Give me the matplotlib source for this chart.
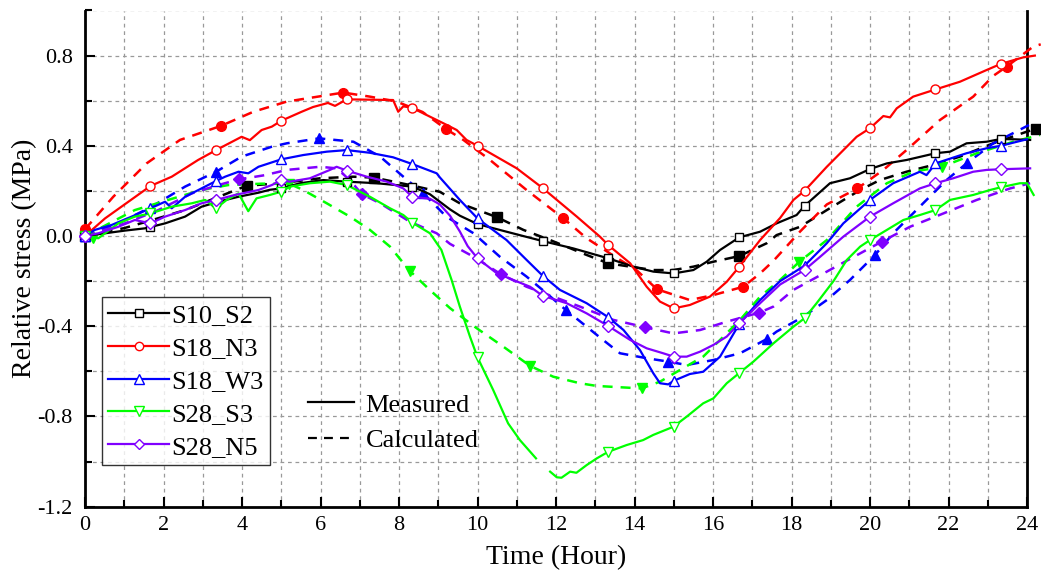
import numpy as np
import matplotlib
matplotlib.use("Agg")
import matplotlib.pyplot as plt
from matplotlib.lines import Line2D
from matplotlib.ticker import MultipleLocator, FormatStrFormatter

plt.rcParams['font.family'] = ['Liberation Serif', 'DejaVu Serif']
plt.rcParams['axes.unicode_minus'] = False

nan = np.nan

# measured markers every 100 min
t_mark = [0, 1.667, 3.333, 5.0, 6.667, 8.333, 10.0, 11.667, 13.333, 15.0, 16.667, 18.333, 20.0, 21.667, 23.333]

# S10_S2
s10_x = [0, 0.17, 0.51, 1.02, 1.53, 1.67, 2.04, 2.55, 2.97, 3.4, 3.91, 4.42, 4.71, 5.01, 5.48, 6.07, 6.67, 7.43,
         8.34, 8.79, 9.04, 9.3, 9.55, 10.0, 10.74, 11.65, 12.44, 13.33, 13.97, 14.48, 15.0, 15.5, 15.84, 16.18,
         16.67, 17.2, 17.62, 18.13, 18.33, 18.98, 19.49, 20.0, 20.43, 20.93, 21.67, 22.04, 22.46, 22.97, 23.33,
         23.65, 24.08]
s10_y = [0, 0.004, 0.012, 0.024, 0.034, 0.04, 0.056, 0.086, 0.13, 0.152, 0.174, 0.192, 0.205, 0.211, 0.234, 0.248,
         0.241, 0.234, 0.219, 0.185, 0.152, 0.118, 0.09, 0.053, 0.019, -0.022, -0.055, -0.099, -0.136, -0.158,
         -0.166, -0.151, -0.114, -0.062, -0.006, 0.019, 0.056, 0.093, 0.133, 0.234, 0.256, 0.297, 0.322, 0.337,
         0.367, 0.374, 0.411, 0.418, 0.43, 0.429, 0.426]
s10_mk = [0, 0.04, 0.15, 0.211, 0.241, 0.219, 0.053, -0.022, -0.099, -0.166, -0.006, 0.133, 0.297, 0.367, 0.43]
s10c_x = [0, 1.0, 1.7, 2.55, 4.12, 4.97, 5.99, 6.83, 7.36, 8.28, 9.04, 9.55, 10.5, 11.17, 11.85, 12.78, 13.33,
          13.89, 14.48, 14.99, 15.5, 16.01, 16.67, 17.37, 17.62, 18.22, 18.9, 19.75, 20.25, 20.93, 21.61, 22.29,
          23.14, 24.0, 24.23]
s10c_y = [0, 0.035, 0.07, 0.115, 0.223, 0.234, 0.256, 0.263, 0.259, 0.226, 0.196, 0.145, 0.083, 0.027, -0.018,
          -0.084, -0.121, -0.136, -0.151, -0.151, -0.136, -0.114, -0.089, -0.032, 0.004, 0.041, 0.115, 0.204,
          0.248, 0.285, 0.315, 0.352, 0.411, 0.463, 0.474]
s10c_mx = [0, 4.12, 7.36, 10.5, 13.33, 16.67, 24.23]
s10c_my = [0, 0.223, 0.259, 0.083, -0.121, -0.089, 0.474]

# S18_N3
n3_x = [0, 0.51, 1.67, 2.21, 2.88, 3.34, 3.99, 4.2, 4.5, 4.76, 5.0, 5.52, 5.81, 6.19, 6.37, 6.67, 7.85, 7.98,
        8.11, 8.34, 8.79, 9.13, 9.47, 9.72, 10.0, 11.0, 11.65, 12.53, 13.12, 13.33, 13.89, 14.31, 14.65, 15.0,
        15.41, 15.92, 16.35, 16.67, 17.2, 17.71, 18.05, 18.33, 18.9, 19.66, 20.0, 20.34, 20.51, 20.68, 21.1,
        21.67, 22.29, 22.97, 23.33, 23.9, 24.2]
n3_y = [0, 0.078, 0.222, 0.263, 0.337, 0.381, 0.44, 0.425, 0.47, 0.485, 0.511, 0.551, 0.572, 0.59, 0.577, 0.606,
        0.603, 0.551, 0.575, 0.568, 0.529, 0.5, 0.47, 0.426, 0.40, 0.30, 0.214, 0.086, -0.003, -0.04, -0.121,
        -0.225, -0.291, -0.321, -0.306, -0.269, -0.203, -0.136, -0.018, 0.08, 0.16, 0.20, 0.307, 0.44, 0.478,
        0.532, 0.526, 0.566, 0.618, 0.65, 0.684, 0.736, 0.763, 0.792, 0.80]
n3_mk = [0, 0.222, 0.381, 0.511, 0.606, 0.568, 0.40, 0.214, -0.04, -0.321, -0.136, 0.20, 0.478, 0.65, 0.763]
n3c_x = [0, 0.72, 1.57, 2.42, 3.46, 4.29, 5.14, 6.58, 7.26, 7.94, 8.6, 9.21, 9.64, 10.32, 11.25, 12.19, 12.78,
         13.63, 14.05, 14.57, 15.41, 16.01, 16.77, 17.2, 17.54, 18.22, 18.9, 19.68, 20.34, 20.93, 21.78, 22.63,
         23.14, 23.48, 24.16, 24.35]
n3c_y = [0.03, 0.174, 0.322, 0.426, 0.488, 0.551, 0.596, 0.636, 0.618, 0.596, 0.55, 0.473, 0.426, 0.337, 0.204,
         0.078, -0.01, -0.106, -0.151, -0.236, -0.284, -0.262, -0.225, -0.166, -0.11, 0.02, 0.14, 0.211, 0.293,
         0.381, 0.514, 0.618, 0.71, 0.751, 0.84, 0.85]
n3c_mx = [0, 3.46, 6.58, 9.21, 12.19, 14.57, 16.77, 19.68, 23.48]
n3c_my = [0.03, 0.488, 0.636, 0.473, 0.078, -0.236, -0.225, 0.211, 0.751]

# S18_W3
w3_x = [0, 0.25, 0.68, 1.19, 1.67, 2.04, 2.21, 2.55, 2.89, 3.34, 3.57, 3.91, 4.16, 4.42, 5.0, 5.56, 6.16, 6.67,
        7.26, 7.85, 8.34, 8.96, 9.04, 9.55, 10.0, 10.74, 11.25, 11.66, 12.1, 12.78, 13.33, 13.72, 14.14, 14.48,
        14.65, 14.86, 15.0, 15.41, 15.75, 16.18, 16.67, 17.2, 17.71, 18.33, 18.9, 19.32, 20.0, 20.59, 21.27,
        21.44, 21.67, 22.46, 22.97, 23.33, 24.0]
w3_y = [0, 0.027, 0.049, 0.086, 0.123, 0.152, 0.123, 0.174, 0.204, 0.244, 0.263, 0.285, 0.278, 0.307, 0.34,
        0.359, 0.374, 0.381, 0.369, 0.349, 0.319, 0.278, 0.26, 0.16, 0.078, -0.018, -0.106, -0.176, -0.239,
        -0.298, -0.36, -0.417, -0.506, -0.609, -0.653, -0.658, -0.642, -0.612, -0.602, -0.535, -0.39, -0.284,
        -0.2, -0.132, -0.032, 0.056, 0.16, 0.234, 0.285, 0.27, 0.322, 0.367, 0.389, 0.40, 0.429]
w3_mk = [0, 0.123, 0.244, 0.34, 0.381, 0.319, 0.078, -0.176, -0.36, -0.642, -0.39, -0.132, 0.16, 0.322, 0.40]
w3c_x = [0, 0.85, 1.7, 2.55, 3.34, 3.99, 4.76, 5.14, 5.96, 6.84, 7.52, 8.11, 8.62, 9.21, 9.9, 10.57, 11.25,
         11.76, 12.25, 12.78, 13.12, 13.63, 14.31, 14.86, 15.33, 16.01, 16.69, 17.37, 17.62, 18.3, 18.9, 19.49,
         20.13, 20.59, 21.44, 21.95, 22.46, 23.14, 24.05]
w3c_y = [0, 0.056, 0.13, 0.219, 0.285, 0.352, 0.396, 0.411, 0.433, 0.418, 0.352, 0.263, 0.189, 0.085, 0.012,
         -0.092, -0.18, -0.254, -0.328, -0.402, -0.45, -0.52, -0.542, -0.557, -0.572, -0.55, -0.52, -0.457,
         -0.424, -0.358, -0.284, -0.195, -0.084, 0.012, 0.16, 0.248, 0.322, 0.411, 0.492]
w3c_mx = [0, 3.34, 5.96, 8.62, 12.25, 14.86, 17.37, 20.13, 22.46]
w3c_my = [0, 0.285, 0.433, 0.189, -0.328, -0.557, -0.457, -0.084, 0.322]

# S28_S3
s3_x = [0, 0.34, 0.85, 1.27, 1.67, 2.21, 2.72, 3.06, 3.34, 3.61, 3.91, 4.16, 4.37, 4.71, 5.01, 5.22, 5.73, 6.24,
        6.67, 7.26, 7.77, 8.11, 8.34, 8.79, 9.08, 9.34, 9.55, 9.81, 10.0, 10.4, 10.78, 11.08, 11.49, nan, 11.85,
        12.02, 12.14, 12.36, 12.52, 12.78, 13.04, 13.33, 13.8, 14.22, 14.48, 14.99, 15.33, 15.75, 16.01, 16.35,
        16.66, 17.03, 17.54, 18.05, 18.33, 18.64, 19.07, 19.41, 19.75, 20.0, 20.43, 20.85, 21.27, 21.67, 22.04,
        22.63, 23.06, 23.33, 23.82, 24.0, 24.17]
s3_y = [0, -0.01, 0.056, 0.086, 0.1, 0.13, 0.145, 0.16, 0.123, 0.16, 0.189, 0.11, 0.167, 0.182, 0.197, 0.219,
        0.234, 0.241, 0.226, 0.174, 0.123, 0.093, 0.059, 0.012, -0.062, -0.195, -0.313, -0.447, -0.538, -0.683,
        -0.831, -0.905, -0.986, nan, -1.045, -1.07, -1.072, -1.045, -1.05, -1.016, -0.986, -0.957, -0.927, -0.905,
        -0.882, -0.846, -0.801, -0.742, -0.72, -0.653, -0.609, -0.557, -0.476, -0.402, -0.365, -0.298, -0.2,
        -0.106, -0.047, -0.018, 0.027, 0.071, 0.093, 0.115, 0.16, 0.182, 0.204, 0.216, 0.234, 0.234, 0.182]
s3_mk = [0, 0.1, 0.123, 0.197, 0.226, 0.059, -0.538, nan, -0.957, -0.846, -0.609, -0.365, -0.018, 0.115, 0.216]
s3c_x = [0, 1.27, 2.12, 2.97, 3.65, 4.5, 5.21, 5.56, 6.16, 6.75, 7.26, 7.77, 8.27, 8.79, 9.3, 9.98, 10.66, 11.34,
         11.93, 12.61, 13.04, 14.18, 14.65, 15.16, 15.75, 16.18, 16.69, 17.2, 17.71, 18.2, 18.9, 19.66, 20.43,
         21.1, 21.83, 22.72, 23.65, 24.33]
s3c_y = [0, 0.115, 0.16, 0.204, 0.226, 0.232, 0.231, 0.204, 0.145, 0.086, 0.027, -0.047, -0.154, -0.24, -0.32,
         -0.409, -0.491, -0.576, -0.624, -0.653, -0.665, -0.676, -0.646, -0.594, -0.535, -0.461, -0.372, -0.269,
         -0.195, -0.114, -0.018, 0.13, 0.234, 0.285, 0.307, 0.367, 0.418, 0.448]
s3c_mx = [0.2, 5.21, 8.27, 11.34, 14.18, 18.2, 21.83]
s3c_my = [-0.01, 0.231, -0.154, -0.576, -0.676, -0.114, 0.307]

# S28_N5
n5_x = [0, 0.34, 0.85, 1.27, 1.67, 2.04, 2.55, 2.97, 3.34, 3.82, 4.42, 4.76, 5.0, 5.22, 5.73, 6.24, 6.41, 6.67,
        7.18, 7.69, 8.11, 8.34, 8.79, 9.04, 9.3, 9.55, 9.75, 10.0, 10.49, 10.91, 11.34, 11.66, 12.27, 12.78, 13.33,
        13.89, 14.31, 14.73, 15.0, 15.33, 15.67, 16.01, 16.35, 16.67, 17.2, 17.71, 18.33, 18.73, 19.32, 20.0,
        20.59, 21.27, 21.67, 22.12, 22.63, 22.97, 23.33, 24.08]
n5_y = [0, 0.012, 0.041, 0.071, 0.056, 0.086, 0.115, 0.145, 0.16, 0.182, 0.204, 0.226, 0.248, 0.241, 0.256,
        0.293, 0.307, 0.29, 0.263, 0.241, 0.211, 0.174, 0.165, 0.14, 0.09, 0.02, -0.045, -0.099, -0.165, -0.195,
        -0.225, -0.265, -0.298, -0.343, -0.399, -0.461, -0.498, -0.52, -0.535, -0.535, -0.513, -0.483, -0.446,
        -0.387, -0.298, -0.215, -0.151, -0.092, -0.003, 0.086, 0.145, 0.211, 0.234, 0.256, 0.285, 0.293, 0.296,
        0.30]
n5_mk = [0, 0.056, 0.16, 0.248, 0.29, 0.174, -0.099, -0.265, -0.399, -0.535, -0.387, -0.151, 0.086, 0.234, 0.296]
n5c_x = [0, 1.02, 1.87, 2.72, 3.4, 3.92, 4.59, 5.14, 5.99, 6.41, 6.75, 7.05, 7.52, 8.28, 8.96, 9.3, 9.9, 10.6,
         11.25, 11.93, 12.61, 13.46, 14.28, 14.99, 15.67, 16.35, 17.18, 17.54, 18.05, 18.9, 19.75, 20.3, 21.02,
         21.87, 22.72, 23.57, 24.08]
n5c_y = [0, 0.056, 0.115, 0.189, 0.226, 0.251, 0.27, 0.293, 0.307, 0.3, 0.248, 0.186, 0.145, 0.063, 0.012,
         -0.035, -0.092, -0.17, -0.225, -0.269, -0.313, -0.372, -0.405, -0.432, -0.417, -0.38, -0.34, -0.313,
         -0.239, -0.158, -0.077, -0.025, 0.041, 0.1, 0.16, 0.211, 0.234]
n5c_mx = [0, 3.92, 7.05, 10.6, 14.28, 17.18, 20.3]
n5c_my = [0, 0.251, 0.186, -0.17, -0.405, -0.34, -0.025]

names = ["S10_S2", "S18_N3", "S18_W3", "S28_S3", "S28_N5"]
colors = ["black", "#ff0000", "#0000ff", "#00ff00", "#8000ff"]
marks = ["s", "o", "^", "v", "D"]
msizes = [6, 6.5, 7, 7, 6]

measured = [(s10_x, s10_y, s10_mk), (n3_x, n3_y, n3_mk), (w3_x, w3_y, w3_mk),
            (s3_x, s3_y, s3_mk), (n5_x, n5_y, n5_mk)]
calculated = [(s10c_x, s10c_y, s10c_mx, s10c_my), (n3c_x, n3c_y, n3c_mx, n3c_my),
              (w3c_x, w3c_y, w3c_mx, w3c_my), (s3c_x, s3c_y, s3c_mx, s3c_my),
              (n5c_x, n5c_y, n5c_mx, n5c_my)]

fig = plt.figure(figsize=(10.41, 5.74), dpi=100)
ax = fig.add_axes([85 / 1041, 67.4 / 574, 942 / 1041, 496.1 / 574])

for i in range(5):
    c = colors[i]
    cx, cy, cmx, cmy = calculated[i]
    ax.plot(cx, cy, color=c, lw=1.8, dashes=(4, 3.2), clip_on=False, zorder=3)
    ax.plot(cmx, cmy, ls="none", marker=marks[i], color=c, ms=msizes[i] + 0.5, clip_on=False, zorder=4)

for i in range(5):
    c = colors[i]
    mx, my, mk = measured[i]
    ax.plot(mx, my, color=c, lw=1.6, clip_on=False, zorder=5)
    ax.plot(t_mark, mk, ls="none", marker=marks[i], mfc="white", mec=c, mew=1.0, ms=msizes[i],
            clip_on=False, zorder=6)

ax.set_xlim(0, 24)
ax.set_ylim(-1.2, 1.0)
ax.xaxis.set_major_locator(MultipleLocator(2))
ax.xaxis.set_minor_locator(MultipleLocator(1))
ax.yaxis.set_major_locator(MultipleLocator(0.4))
ax.yaxis.set_minor_locator(MultipleLocator(0.2))
ax.yaxis.set_major_formatter(FormatStrFormatter("%.1f"))
ax.tick_params(which="both", direction="in", labelsize=16, width=1.5, top=False, right=False)
ax.tick_params(which="major", length=7)
ax.tick_params(which="minor", length=5)
ax.tick_params(axis="y", which="major", pad=9)
ax.tick_params(axis="x", which="major", pad=7)
ax.grid(True, which="both", color="#999999", ls=(0, (3, 3)), lw=0.9)
ax.set_axisbelow(True)
for side in ["left", "bottom", "right"]:
    ax.spines[side].set_linewidth(2)
ax.spines["top"].set_visible(False)

ax.set_xlabel("Time (Hour)", fontsize=20, labelpad=7)
ax.set_ylabel("Relative stress (MPa)", fontsize=20, labelpad=0)

handles = [Line2D([], [], color=colors[i], lw=1.6, marker=marks[i], mfc="white", mec=colors[i],
                  ms=msizes[i] - 0.5) for i in range(5)]
leg1 = ax.legend(handles, names, loc="upper left", bbox_to_anchor=(0.0177, 0.423), borderaxespad=0,
                 fontsize=19, frameon=True, fancybox=False, edgecolor="black", handlelength=2.3,
                 labelspacing=0.36, borderpad=0.25, handletextpad=0.08)
leg1.get_frame().set_linewidth(1.0)
ax.add_artist(leg1)

h2 = [Line2D([], [], color="black", lw=1.6), Line2D([], [], color="black", lw=1.6, dashes=(4, 3.2))]
ax.legend(h2, ["Measured", "Calculated"], loc="upper left", bbox_to_anchor=(0.225, 0.25), borderaxespad=0,
          fontsize=19, frameon=False, handlelength=1.75, labelspacing=0.47, handletextpad=0.45)

fig.savefig("out.png", dpi=100)
